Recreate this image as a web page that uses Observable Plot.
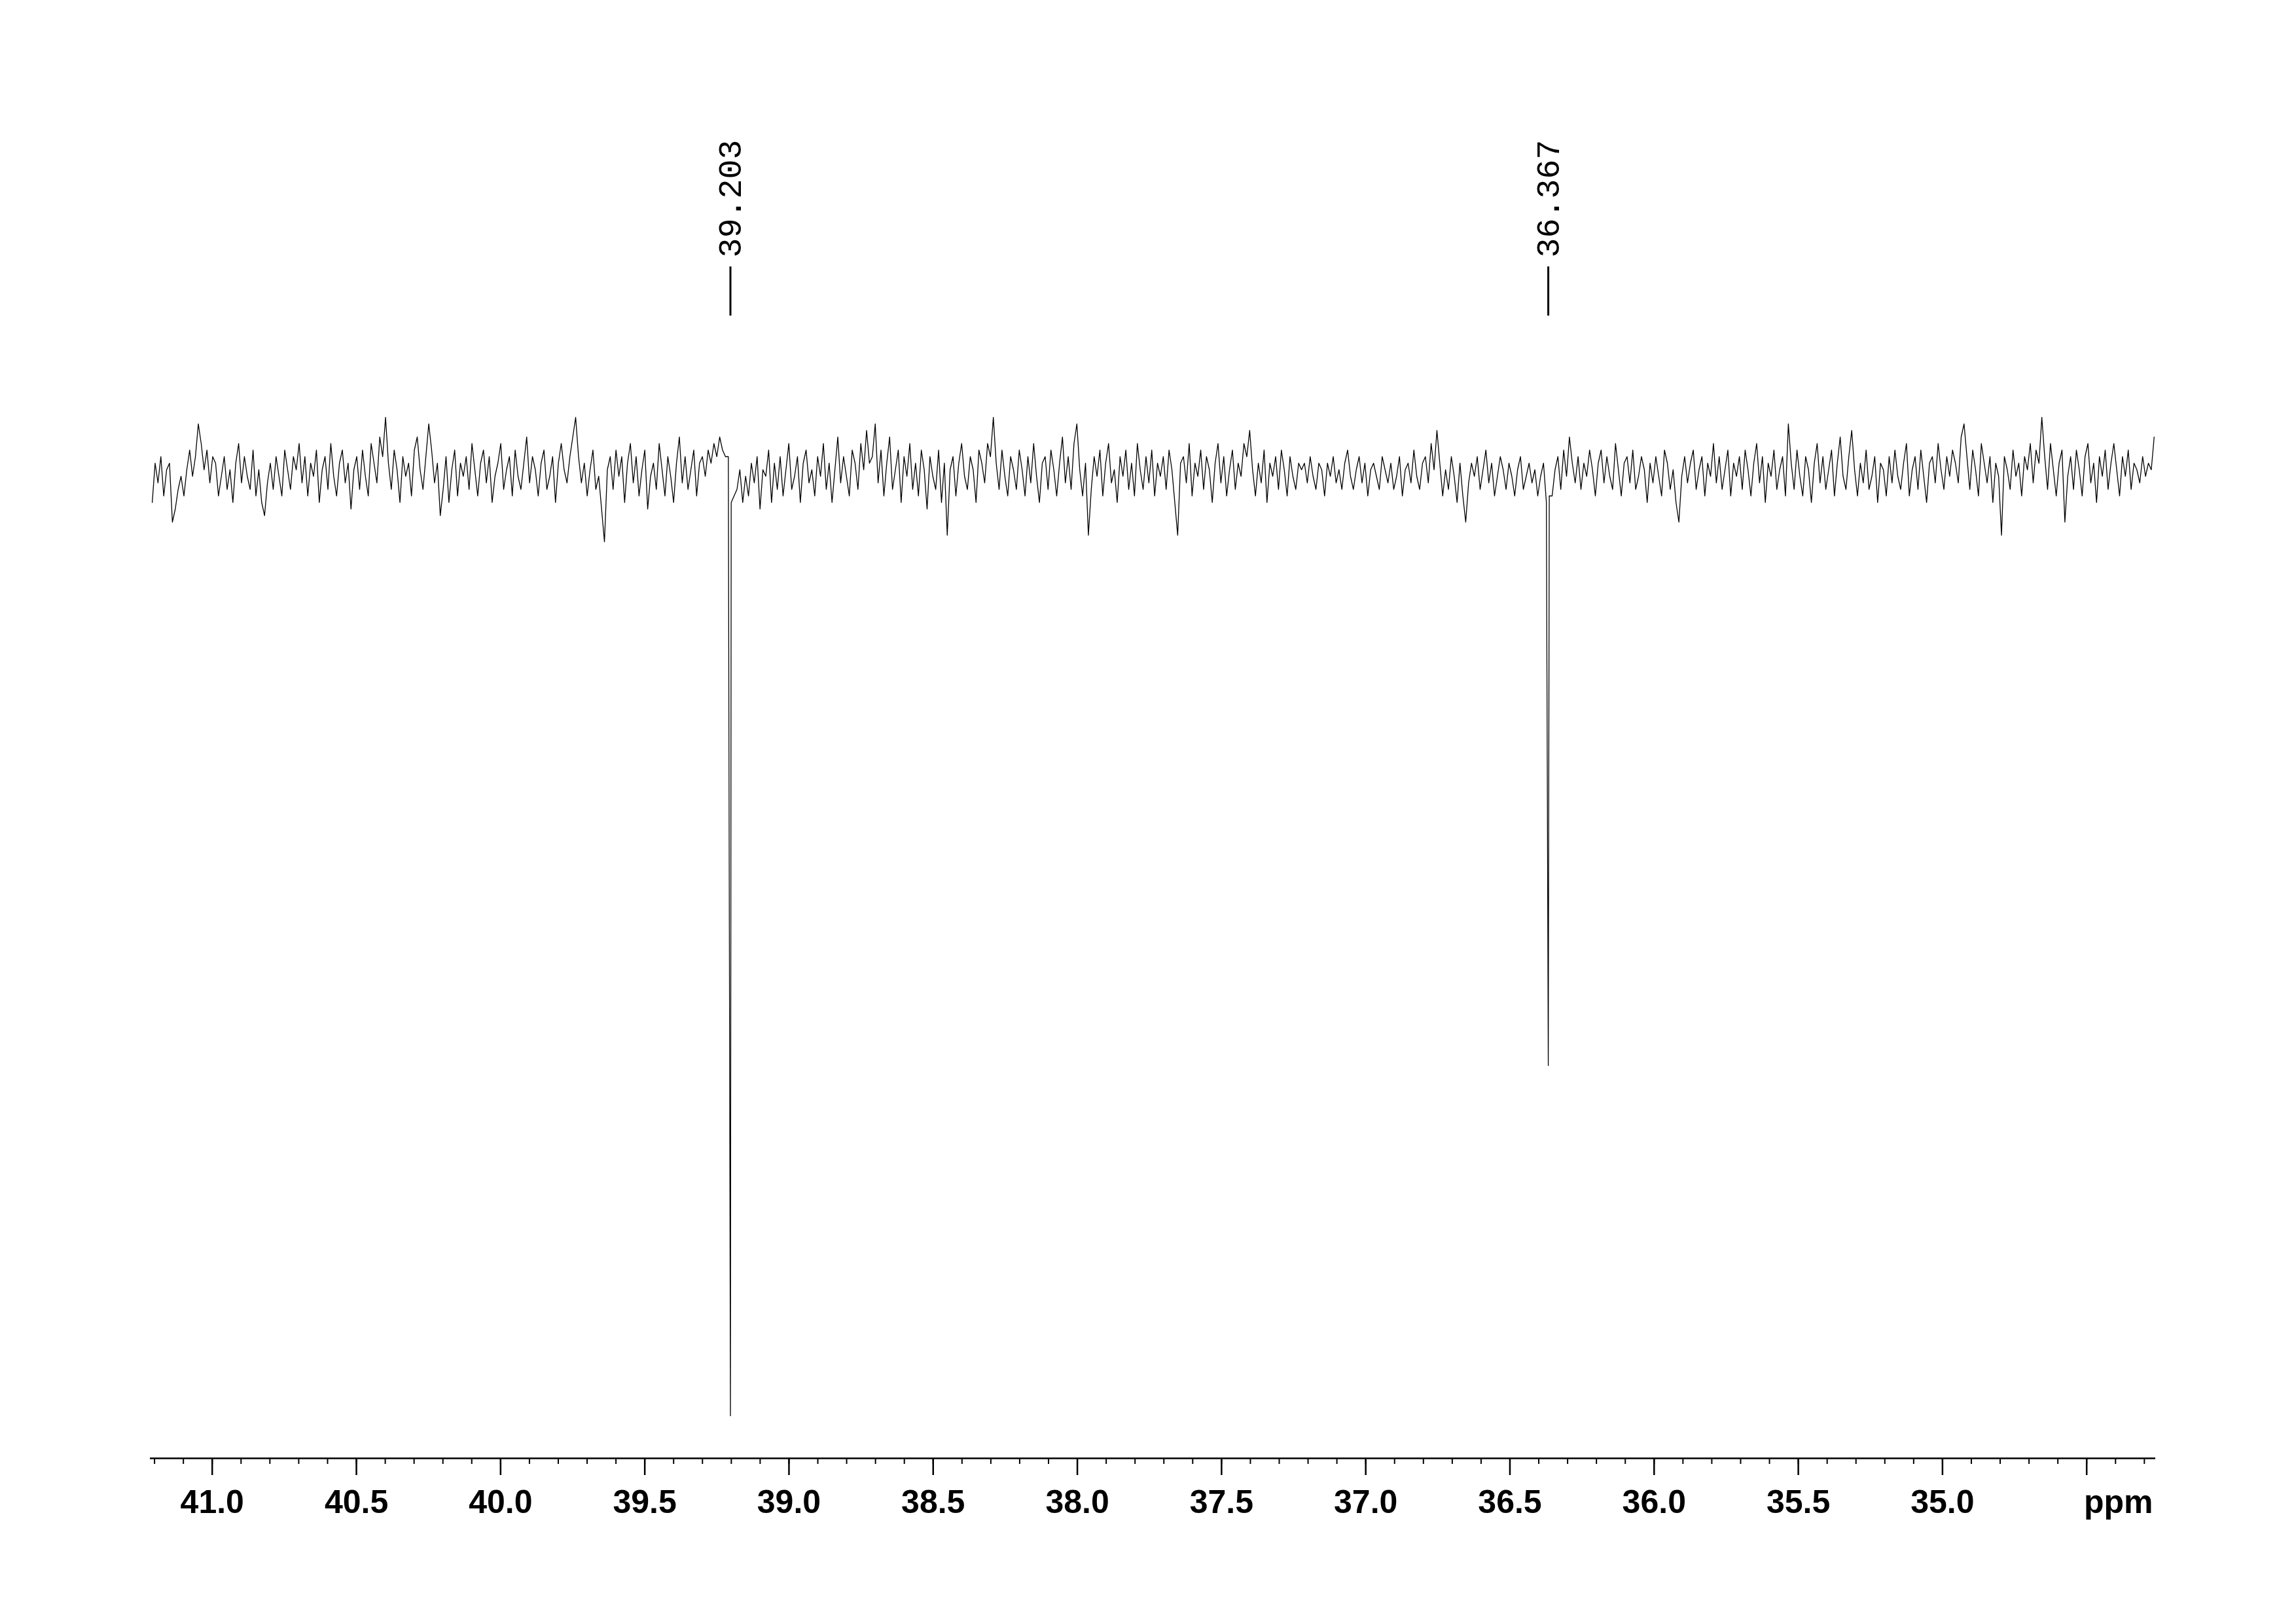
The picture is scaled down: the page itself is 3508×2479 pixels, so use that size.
<!DOCTYPE html>
<html>
<head>
<meta charset="utf-8">
<script src="https://cdn.jsdelivr.net/npm/d3@7"></script>
<script src="https://cdn.jsdelivr.net/npm/@observablehq/plot@0.6"></script>
<style>
  html, body { margin: 0; padding: 0; background: #ffffff; }
  #chart svg { display: block; }
</style>
</head>
<body>
<div id="chart"></div>
<script>
// Spectrum sampling range (ppm, left to right)
const ppmStart = 41.208;
const ppmEnd = 34.266;

// Baseline noise (arbitrary intensity units), left to right
const noise1 = [-4, 2, -1, 3, -3, 1, 2, -7, -5, -2, 0, -3, 1, 4, 0, 3, 8, 5, 1, 4, -1, 3, 2, -3, 0, 3, -2, 1, -4, 2, 5, -1, 3, 0, -2, 4, -3, 1, -4, -6, -1, 2, -2, 3, 0, -3, 4, 1, -2, 3,
  1, 5, -1, 3, -3, 2, 0, 4, -4, 1, 3, -2, 5, 0, -3, 2, 4, -1, 2, -5, 1, 3, -2, 4, 0, -3, 5, 2, -1, 6, 3, 9, 2, -2, 4, 1, -4, 3, 0, 2, -3, 4, 6, 1, -2, 3, 8, 4, -1, 2];
const noise2 = [-6, -2, 3, -4, 1, 4, -3, 2, 0, 3, -2, 5, 1, -3, 2, 4, -1, 3, -4, 0, 2, 5, -2, 1, 3, -3, 4, 0, -2, 2, 6, -1, 3, 1, -3, 2, 4, -2, 0, 3, -4, 2, 5, 1, -1, 3, 6, 9, 3, -1,
  2, -3, 1, 4, -2, 0, -5, -10, 1, 3, -2, 4, 0, 3, -4, 2, 5, -1, 3, -3, 1, 4, -5, 0, 2, -2, 5, 1, -3, 3, 0, -4, 2, 6, -1, 3, -2, 1, 4, -3, 2, 3, 0, 4, 2, 5, 3, 6, 4, 3];
const noise3 = [3, -4, -3, -2, 1, -4, 0, -3, 2, -1, 3, -5, 1, 0, 4, -4, 2, -2, 3, -3, 1, 5, -2, 0, 3, -4, 2, 4, -1, 1, -3, 3, 0, 5, -2, 2, -4, 1, 6, -1, 3, 0, -3, 4, 2, -2, 5, 1, 7, 2,
  3, 8, -1, 4, -3, 2, 6, -2, 1, 4, -4, 3, 0, 5, -2, 2, -3, 4, 1, -5, 3, 0, -2, 4, -4, 2, -9, 1, 3, -3, 2, 5, 0, -2, 3, 1, -4, 4, 2, -1, 5, 3, 9, 2, -2, 4, 0, -3, 3, 1];
const noise4 = [-2, 4, 1, -3, 3, -1, 5, 0, -4, 2, 3, -2, 4, 1, -3, 2, 6, -1, 3, -2, 5, 8, 1, -3, 2, -9, -2, 3, 0, 4, -3, 2, 5, -1, 1, -4, 3, 0, 4, -2, 2, -3, 5, 1, -2, 3, -1, 4, -3, 2,
  0, 3, -2, 4, 1, -4, -9, 2, 3, -1, 5, -3, 2, 0, 4, -2, 3, 1, -4, 2, 5, -1, 3, -3, 1, 4, -2, 2, 0, 5, 3, 7, 1, -3, 2, -1, 4, -4, 2, 0, 3, -2, 4, 1, -3, 3, 0, -2, 2, 1];
const noise5 = [2, -1, 3, 0, -2, 2, 1, -3, 2, 0, 3, -1, 1, -2, 2, 4, 0, -2, 1, 3, -1, 2, -3, 1, 2, 0, -2, 3, 1, -1, 2, -2, 0, 3, -3, 1, 2, -1, 4, 0, -2, 2, 3, -1, 5, 1, 7, 2, -3, 1,
  -2, 3, 0, -4, 2, -3, -7, -1, 2, 0, 3, -2, 1, 4, -1, 2, -3, 0, 3, 1, -2, 2, 0, -3, 1, 3, -2, 0, 2, -1, 1, -3, 0, 2, -4, -3, -3, 1, 3, -2, 4, 0, 6, 2, -1, 3, -2, 2, 0, 4];
const noise6 = [1, -3, 2, 4, -1, 3, 0, -2, 5, 1, -3, 2, 3, -1, 4, -2, 0, 3, 1, -4, 2, -1, 3, 0, -3, 4, 2, -2, 1, -4, -7, 0, 3, -1, 2, 4, -2, 1, 3, -3, 2, 0, 5, -1, 3, -2, 1, 4, -3, 2,
  0, 3, -2, 4, 1, -3, 2, 5, -1, 3, -4, 2, 0, 4, -2, 1, 3, -3, 8, 2, -2, 4, 0, -3, 3, 1, -4, 2, 5, -1, 3, -2, 1, 4, -3, 2, 6, 0, -2, 3, 7, 1, -3, 2, -1, 4, -2, 0, 3, -4];
const noise7 = [2, 1, -3, 3, -1, 4, 0, -2, 2, 5, -3, 1, 3, -2, 4, 0, -4, 2, 3, -1, 5, 1, -2, 3, 0, 4, 2, -1, 6, 8, 3, -2, 4, 1, -3, 5, 2, -1, 3, -4, 2, 0, -9, 3, 1, -2, 4, 0, 2, -3,
  3, 1, 5, -1, 4, 2, 9, 3, -2, 5, 1, -3, 2, 4, -7, 0, 3, -2, 4, 1, -3, 3, 5, -1, 2, -4, 3, 0, 4, -2, 2, 5, 1, -3, 3, 0, 4, -2, 2, 1, -1, 3, 0, 2, 1, 6];

// Peaks (negative, DEPT-like)
const peakPpm = [39.203, 36.367];
const peakIntensity = [-143.5, -90];
const peakLabels = ["39.203", "36.367"];

// Axis ticks
const majorTicks = [41.0, 40.5, 40.0, 39.5, 39.0, 38.5, 38.0, 37.5, 37.0, 36.5, 36.0, 35.5, 35.0, 34.5];
const majorLabels = ["41.0", "40.5", "40.0", "39.5", "39.0", "38.5", "38.0", "37.5", "37.0", "36.5", "36.0", "35.5", "35.0", ""];
const minorTicks = d3.range(343, 413).map(d => d / 10);
const unitLabel = ["ppm"];

// Build the spectrum table
const noise = [...noise1, ...noise2, ...noise3, ...noise4, ...noise5, ...noise6, ...noise7];
const step = (ppmStart - ppmEnd) / (noise.length - 1);
const spectrum = noise.map((v, i) => ({ppm: ppmStart - i * step, v}));
peakPpm.forEach((p, k) => spectrum.push({ppm: p, v: peakIntensity[k]}));
spectrum.sort((a, b) => b.ppm - a.ppm);
const peaks = peakPpm.map((p, k) => ({ppm: p, label: peakLabels[k]}));

const yMin = -150, yMax = 30;

const chart = Plot.plot({
  width: 3508,
  height: 2479,
  marginLeft: 229,
  marginRight: 215,
  marginTop: 427,
  marginBottom: 252,
  x: {domain: [41.215, 34.261]},
  y: {domain: [yMin, yMax]},
  style: {background: "#ffffff", color: "#000000", fontFamily: "'Liberation Sans', Arial, sans-serif"},
  marks: [
    Plot.axisY({ticks: [], label: null}),
    Plot.ruleY([yMin], {stroke: "#000", strokeWidth: 2.5}),
    Plot.axisX(minorTicks, {tickSize: 9, tickFormat: () => "", strokeWidth: 2, label: null}),
    Plot.axisX(majorTicks, {
      tickSize: 26, strokeWidth: 2.5, label: null,
      tickFormat: (d, i) => majorLabels[i],
      fontSize: 50, fontWeight: "bold", tickPadding: 22
    }),
    Plot.text(unitLabel, {
      frameAnchor: "bottom-right", textAnchor: "end", lineAnchor: "top",
      dx: -4, dy: 48, fontSize: 50, fontWeight: "bold", text: d => d
    }),
    Plot.line(spectrum, {x: "ppm", y: "v", stroke: "#000", strokeWidth: 1.3}),
    Plot.ruleX(peaks, {x: "ppm", y1: yMax - 5.5, y2: yMax + 2, stroke: "#000", strokeWidth: 3}),
    Plot.text(peaks, {
      x: "ppm", frameAnchor: "top", dy: -34, rotate: -90,
      textAnchor: "start", lineAnchor: "middle", text: "label",
      fontSize: 50, fontFamily: "'Liberation Mono', 'DejaVu Sans Mono', monospace",
      fill: "#000"
    })
  ]
});
document.getElementById("chart").appendChild(chart);
</script>
</body>
</html>
